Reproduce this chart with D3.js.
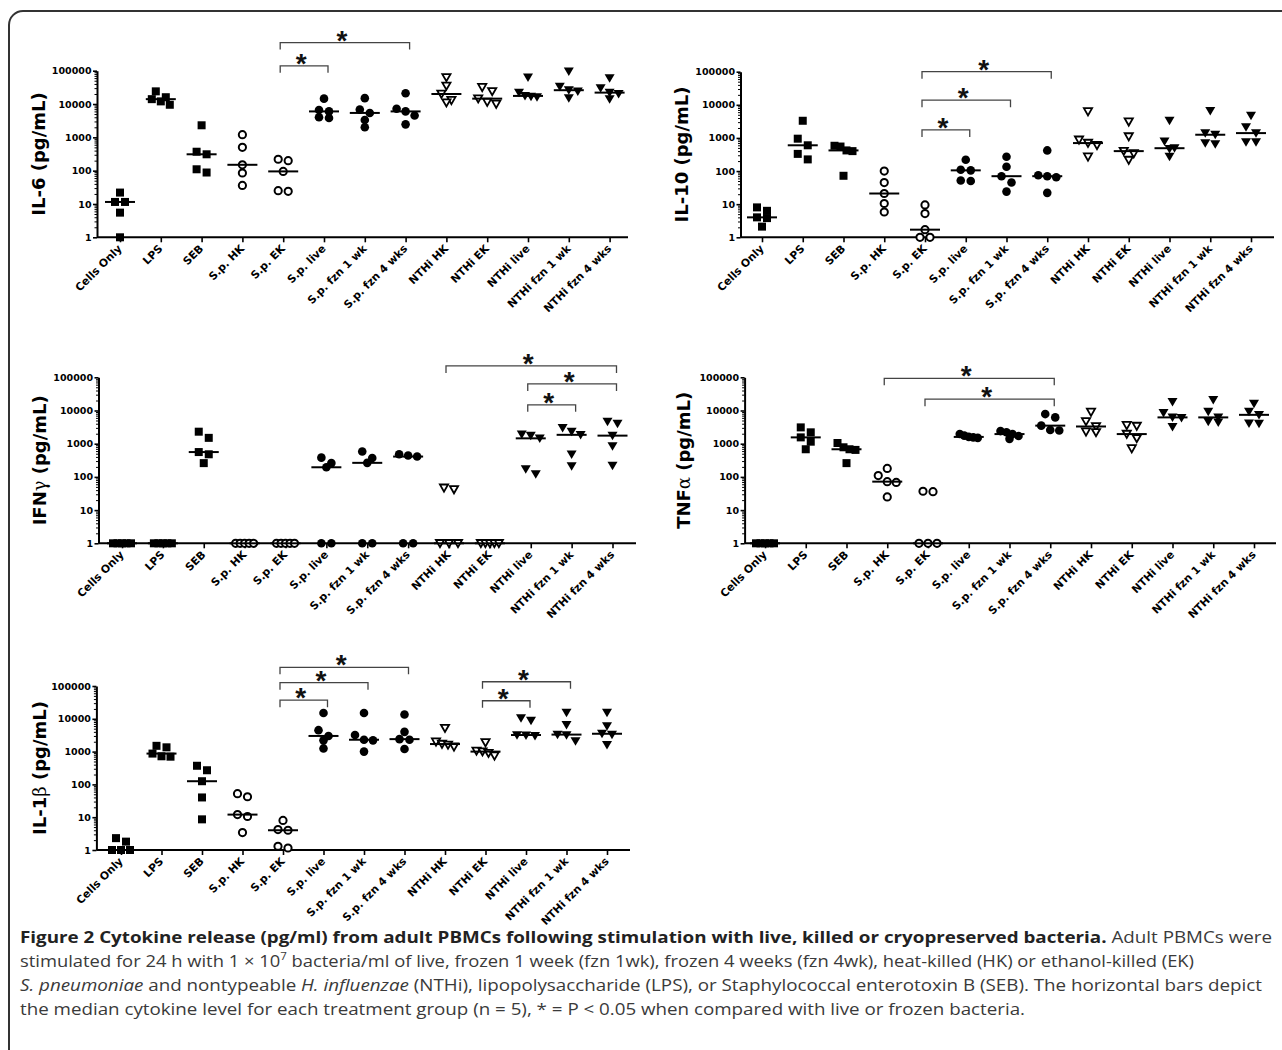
<!DOCTYPE html>
<html>
<head>
<meta charset="utf-8">
<script src="https://cdn.jsdelivr.net/npm/d3@7"></script>
<style>
  body { margin: 0; background: #fff; }
  svg { display: block; }
</style>
</head>
<body>
<svg id="fig" width="1282" height="1050"></svg>
<script>
// treatment groups, same order on every panel
const groups = ["Cells Only", "LPS", "SEB", "S.p. HK", "S.p. EK", "S.p. live", "S.p. fzn 1 wk", "S.p. fzn 4 wks",
  "NTHi HK", "NTHi EK", "NTHi live", "NTHi fzn 1 wk", "NTHi fzn 4 wks"];
const symbols = ["square", "square", "square", "circleOpen", "circleOpen", "circle", "circle", "circle",
  "triOpen", "triOpen", "tri", "tri", "tri"];

const yTicks = [1, 10, 100, 1000, 10000, 100000];

// pg/mL, 5 donors per group
const il6 = [
  [22, 11.5, 11.5, 5.5, 1],
  [24000, 16000, 14000, 12000, 9500],
  [2300, 370, 310, 110, 88],
  [1200, 500, 150, 85, 36],
  [220, 200, 95, 25, 24],
  [14500, 6600, 6000, 4000, 3800],
  [15000, 6800, 5400, 3300, 2000],
  [21000, 7200, 6000, 4500, 2450],
  [63000, 35000, 20000, 13000, 11000],
  [32000, 24000, 14500, 11500, 10000],
  [63000, 22000, 17500, 16500, 16000],
  [95000, 33000, 26000, 24000, 15000],
  [60000, 30000, 22000, 20000, 14000]
];
const il10 = [
  [8, 6.3, 4, 3.8, 2.1],
  [3300, 950, 600, 330, 225],
  [580, 550, 420, 400, 72],
  [100, 45, 21, 10.5, 5.8],
  [9.5, 5.2, 1.7, 1, 1],
  [220, 110, 105, 52, 50],
  [270, 135, 70, 45, 24],
  [420, 75, 70, 65, 22],
  [6300, 880, 700, 600, 270],
  [3100, 1100, 400, 340, 215],
  [3300, 780, 490, 470, 270],
  [6600, 1400, 1250, 700, 650],
  [4700, 2100, 1400, 750, 750]
];
const ifng = [
  [1, 1, 1, 1, 1],
  [1, 1, 1, 1, 1],
  [2300, 1500, 560, 480, 260],
  [1, 1, 1, 1, 1],
  [1, 1, 1, 1, 1],
  [380, 260, 195, 1, 1],
  [580, 370, 265, 1, 1],
  [480, 440, 410, 1, 1],
  [47, 42, 1, 1, 1],
  [1, 1, 1, 1, 1],
  [1900, 1750, 1450, 170, 120],
  [3000, 2300, 1850, 480, 210],
  [4600, 4000, 1750, 850, 220]
];
const tnfa = [
  [1, 1, 1, 1, 1],
  [3100, 2200, 1550, 1150, 680],
  [1050, 780, 680, 650, 260],
  [180, 110, 72, 68, 25],
  [37, 36, 1, 1, 1],
  [1950, 1750, 1600, 1550, 1500],
  [2400, 2200, 1950, 1700, 1400],
  [7800, 6200, 3500, 2600, 2500],
  [9000, 4700, 3300, 2300, 2200],
  [3600, 3400, 1950, 1450, 720],
  [18000, 8500, 6200, 6000, 3200],
  [21000, 9300, 6200, 4600, 4400],
  [16000, 9300, 7400, 4100, 4000]
];
const il1b = [
  [2.3, 1.8, 1, 1, 1],
  [1500, 1350, 870, 720, 700],
  [370, 270, 125, 40, 8.6],
  [52, 42, 12, 10.5, 3.4],
  [8, 4.2, 4, 1.3, 1.15],
  [15000, 4500, 3000, 2200, 1250],
  [15000, 3200, 2300, 2200, 1000],
  [13500, 4000, 2400, 2300, 1200],
  [5200, 2000, 1700, 1600, 1400],
  [1900, 1050, 1000, 900, 750],
  [10500, 8800, 3200, 3100, 3000],
  [15500, 6500, 3300, 3200, 2100],
  [15500, 6000, 3500, 3300, 1600]
];

// significance brackets: [from group, to group, bracket height in pg/mL]
const il6Sig = [[4, 5, 1.4e5], [4, 7, 7e5]];
const il10Sig = [[4, 5, 1740], [4, 6, 13800], [4, 7, 1e5]];
const ifngSig = [[10, 11, 14800], [10, 12, 63000], [8, 12, 2.2e5]];
const tnfaSig = [[3, 7, 93000], [4, 7, 21900]];
const il1bSig = [[4, 5, 37000], [4, 6, 1.26e5], [4, 7, 3.7e5], [9, 10, 35500], [9, 11, 1.35e5]];

// axis titles: [plain part, greek part, rest]
const titles = {
  il6: ["IL-6", "", " (pg/mL)"],
  il10: ["IL-10", "", " (pg/mL)"],
  ifng: ["IFN", "γ", " (pg/mL)"],
  tnfa: ["TNF", "α", " (pg/mL)"],
  il1b: ["IL-1", "β", " (pg/mL)"]
};

const panels = [
  { t: titles.il6, data: il6, sig: il6Sig, ax: 97, end: 628, c0: 120, c1: 609.6, top: 70.7, bot: 237.3, tx: 40 },
  { t: titles.il10, data: il10, sig: il10Sig, ax: 740.5, end: 1274, c0: 762, c1: 1251, top: 71.7, bot: 237.3, tx: 683 },
  { t: titles.ifng, data: ifng, sig: ifngSig, ax: 98.5, end: 636, c0: 122, c1: 612.5, top: 377.3, bot: 543.3, tx: 41 },
  { t: titles.tnfa, data: tnfa, sig: tnfaSig, ax: 744.6, end: 1276, c0: 765, c1: 1254, top: 377.3, bot: 543.3, tx: 685 },
  { t: titles.il1b, data: il1b, sig: il1bSig, ax: 96.4, end: 630, c0: 121, c1: 607, top: 686, bot: 850, tx: 41 }
];

const svg = d3.select("#fig");
const bold = "'DejaVu Sans', sans-serif";

// frame (top + left edge, rounded corner)
svg.append("path").attr("d", "M9,1050 V25 A14,14 0 0 1 23,11 H1282")
  .attr("fill", "none").attr("stroke", "#333").attr("stroke-width", 2);

// GraphPad-like scatter: points closer than a symbol height share a row, side by side
function spread(vals, y) {
  let pts = vals.map((v, i) => ({ i, py: y(v) })).sort((a, b) => a.py - b.py);
  let off = new Array(vals.length).fill(0);
  let rows = [], cur = [];
  pts.forEach(p => {
    if (cur.length && p.py - cur[0].py > 7) { rows.push(cur); cur = []; }
    cur.push(p);
  });
  if (cur.length) rows.push(cur);
  rows.forEach(r => {
    let n = r.length;
    if (n < 2) return;
    let step = Math.min(10, 18 / (n - 1));
    r.forEach((p, j) => off[p.i] = (j - (n - 1) / 2) * step);
  });
  return off;
}

function drawSymbol(g, type, x, y) {
  if (type == "square") {
    g.append("rect").attr("x", x - 4).attr("y", y - 4).attr("width", 8).attr("height", 8).attr("fill", "#000");
  } else if (type == "circle") {
    g.append("circle").attr("cx", x).attr("cy", y).attr("r", 4.3).attr("fill", "#000");
  } else if (type == "circleOpen") {
    g.append("circle").attr("cx", x).attr("cy", y).attr("r", 3.6).attr("fill", "#fff")
      .attr("stroke", "#000").attr("stroke-width", 2);
  } else if (type == "tri") {
    g.append("path").attr("d", `M${x - 5},${y - 3.9} L${x + 5},${y - 3.9} L${x},${y + 4.6} Z`).attr("fill", "#000");
  } else {
    g.append("path").attr("d", `M${x - 4.1},${y - 3.3} L${x + 4.1},${y - 3.3} L${x},${y + 3.9} Z`)
      .attr("fill", "#fff").attr("stroke", "#000").attr("stroke-width", 1.8);
  }
}

panels.forEach(p => {
  let g = svg.append("g");
  let x = d3.scalePoint().domain(groups).range([p.c0, p.c1]);
  let y = d3.scaleLog().domain([1, 100000]).range([p.bot, p.top]);

  // minor ticks
  let minors = [];
  for (let k = 0; k < 5; k++) for (let m = 2; m < 10; m++) minors.push(m * Math.pow(10, k));
  g.append("g").attr("transform", `translate(${p.ax},0)`)
    .call(d3.axisLeft(y).tickValues(minors).tickSize(2.5).tickFormat(""))
    .call(a => a.select(".domain").remove())
    .selectAll("line").attr("stroke", "#000").attr("stroke-width", 1);

  // major y axis
  let ya = g.append("g").attr("transform", `translate(${p.ax},0)`)
    .call(d3.axisLeft(y).tickValues(yTicks).tickFormat(d3.format("d")).tickSize(4).tickSizeOuter(0).tickPadding(1.5));
  ya.select(".domain").attr("stroke", "#000").attr("stroke-width", 2);
  ya.selectAll("line").attr("stroke", "#000").attr("stroke-width", 1.6);
  ya.selectAll("text").attr("font-family", bold).attr("font-weight", "bold").attr("font-size", 9.5).attr("fill", "#000");

  // x axis
  g.append("line").attr("x1", p.ax).attr("x2", p.end).attr("y1", p.bot).attr("y2", p.bot)
    .attr("stroke", "#000").attr("stroke-width", 2);
  let xa = g.append("g").attr("transform", `translate(0,${p.bot})`)
    .call(d3.axisBottom(x).tickSize(5).tickSizeOuter(0));
  xa.select(".domain").remove();
  xa.selectAll("line").attr("stroke", "#000").attr("stroke-width", 1.6);
  xa.selectAll("text").attr("x", 0).attr("y", 0).attr("dy", null)
    .attr("text-anchor", "end").attr("transform", "translate(2,12) rotate(-45)")
    .attr("font-family", bold).attr("font-weight", "bold").attr("font-size", 10.8).attr("fill", "#000");

  // y title
  let t = g.append("text").attr("transform", `translate(${p.tx + 5},${(p.top + p.bot) / 2}) rotate(-90)`)
    .attr("text-anchor", "middle").attr("font-family", bold).attr("font-weight", "bold").attr("font-size", 18);
  t.append("tspan").text(p.t[0]);
  if (p.t[1]) t.append("tspan").attr("font-family", "'DejaVu Serif', serif").attr("font-weight", "normal").text(p.t[1]);
  t.append("tspan").text(p.t[2]);

  // points
  let pg = g.append("g");
  p.data.forEach((vals, gi) => {
    let off = spread(vals, y);
    vals.forEach((v, i) => drawSymbol(pg, symbols[gi], x(groups[gi]) + off[i], y(v)));
  });

  // medians
  g.selectAll(".med").data(p.data).join("line")
    .attr("x1", (d, i) => x(groups[i]) - 15).attr("x2", (d, i) => x(groups[i]) + 15)
    .attr("y1", d => y(d3.median(d))).attr("y2", d => y(d3.median(d)))
    .attr("stroke", "#000").attr("stroke-width", 2);

  // brackets
  p.sig.forEach(s => {
    let x1 = x(groups[s[0]]) - 3, x2 = x(groups[s[1]]) + 4, yb = y(s[2]);
    g.append("path").attr("d", `M${x1},${yb + 7} V${yb} H${x2} V${yb + 7}`)
      .attr("fill", "none").attr("stroke", "#444").attr("stroke-width", 1.3);
    g.append("text").attr("x", (x1 + x2) / 2 - 3).attr("y", yb + 7).attr("text-anchor", "middle")
      .attr("font-family", "'Liberation Sans', Arial, sans-serif").attr("font-weight", "bold")
      .attr("font-size", 28).attr("fill", "#111").text("*");
  });
});

// caption
const capFont = "'Open Sans', sans-serif";
const capLines = [
  { y: 943, w: 1252, parts: [["Figure 2 Cytokine release (pg/ml) from adult PBMCs following stimulation with live, killed or cryopreserved bacteria.", "b"], [" Adult PBMCs were", ""]] },
  { y: 967, w: 1174, parts: [["stimulated for 24 h with 1 × 10", ""], ["7", "sup"], [" bacteria/ml of live, frozen 1 week (fzn 1wk), frozen 4 weeks (fzn 4wk), heat-killed (HK) or ethanol-killed (EK)", "post"]] },
  { y: 991, w: 1242, parts: [["S. pneumoniae", "i"], [" and nontypeable ", ""], ["H. influenzae", "i"], [" (NTHi), lipopolysaccharide (LPS), or Staphylococcal enterotoxin B (SEB). The horizontal bars depict", ""]] },
  { y: 1015, w: 1005, parts: [["the median cytokine level for each treatment group (n = 5), * = P < 0.05 when compared with live or frozen bacteria.", ""]] }
];
capLines.forEach(l => {
  let t = svg.append("text").attr("x", 20).attr("y", l.y).attr("font-family", capFont).attr("font-size", 16)
    .attr("fill", "#3a3a3a").attr("textLength", l.w).attr("lengthAdjust", "spacingAndGlyphs");
  l.parts.forEach(pt => {
    let s = t.append("tspan").text(pt[0]);
    if (pt[1] == "b") s.attr("font-weight", "bold").attr("fill", "#222");
    if (pt[1] == "i") s.attr("font-style", "italic");
    if (pt[1] == "sup") s.attr("font-size", 10).attr("dy", -7);
    if (pt[1] == "post") s.attr("dy", 7);
  });
});
</script>
</body>
</html>
